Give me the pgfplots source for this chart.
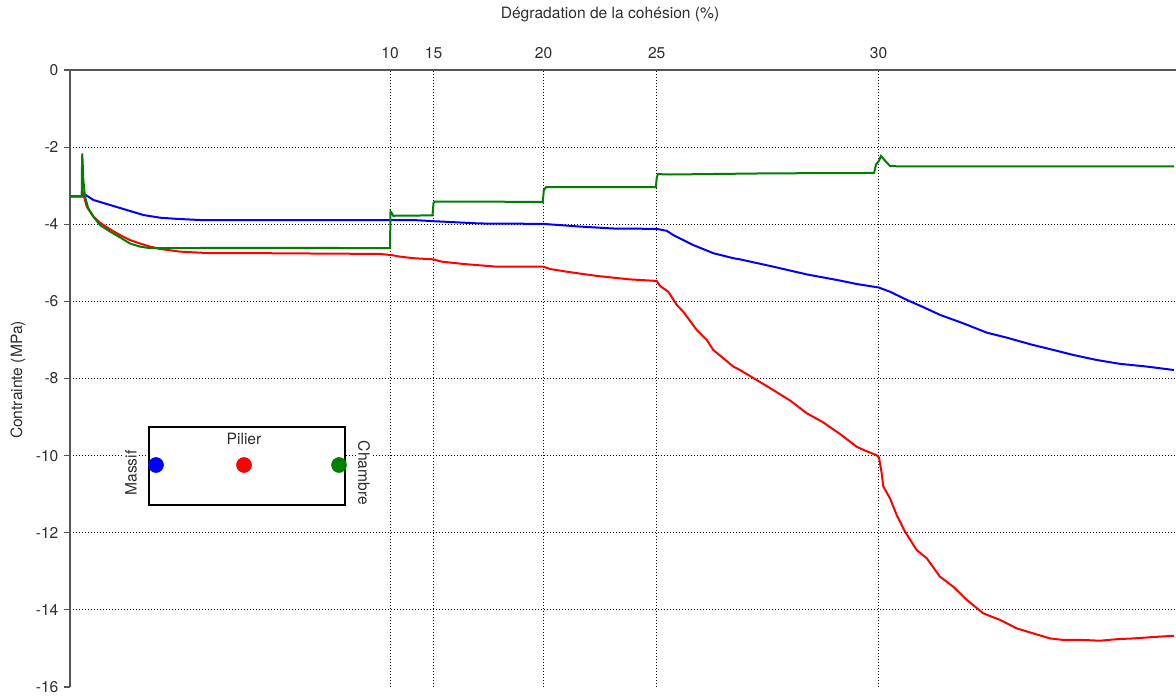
\documentclass[border=0pt]{standalone}
\usepackage{fontspec}
\setmainfont{TeX Gyre Heros}
\usepackage{pgfplots}
\pgfplotsset{compat=1.18}
\definecolor{txt}{HTML}{2E2E2E}
\definecolor{axl}{HTML}{555555}
\definecolor{cblue}{RGB}{0,0,255}
\definecolor{cred}{RGB}{255,0,0}
\definecolor{cgreen}{RGB}{0,128,0}
\begin{document}
\fontsize{7.8}{9}\selectfont
\begin{tikzpicture}
\path[use as bounding box] (0,0) rectangle (588pt,348.5pt);
\begin{axis}[
  at={(35pt,5pt)}, anchor=south west,
  scale only axis, width=553pt, height=308.5pt,
  xmin=0, xmax=1106, ymin=-16, ymax=0,
  axis x line*=top, axis y line*=left,
  axis line style={axl, line width=0.8pt, -},
  xtick={320,363.5,473.5,586.7,808.5},
  xticklabels={10,15,20,25,30},
  x tick style={draw=none},
  ytick={-14,-12,-10,-8,-6,-4,-2},
  extra y ticks={-16,0},
  extra y tick style={grid=none},
  y tick style={axl, line width=0.6pt},
  tick align=outside, major tick length=3pt,
  grid=major,
  major grid style={black, line width=0.45pt, dash pattern=on 0.6pt off 0.9pt},
  tick label style={font=\fontsize{7.8}{9}\selectfont, text=txt},
  /pgf/number format/assume math mode=true,
  clip=false,
]
\addplot[cblue, line width=1pt] coordinates {
(0,-3.28) (12,-3.28) (13.3,-3.20) (23.3,-3.37) (40,-3.50) (56.7,-3.63) (73.3,-3.76)
(90,-3.83) (106.7,-3.86) (130,-3.89) (200,-3.89) (260,-3.89) (320,-3.89) (343,-3.89)
(363,-3.92) (410,-3.98) (473,-3.99) (510,-4.06) (543,-4.11) (586.7,-4.12) (596.7,-4.17)
(603.3,-4.28) (623.3,-4.54) (643.3,-4.75) (663.3,-4.88) (670,-4.91) (703.3,-5.10)
(736.7,-5.30) (770,-5.46) (786.7,-5.55) (808.7,-5.64) (820,-5.75) (836.7,-5.96)
(853.3,-6.15) (870,-6.35) (893.3,-6.57) (916.7,-6.81) (936.7,-6.94) (960,-7.11)
(983.3,-7.26) (1003.3,-7.39) (1026.7,-7.52) (1050,-7.62) (1076.7,-7.69) (1104,-7.78)
};
\addplot[cred, line width=1pt] coordinates {
(0,-3.28) (12,-3.28) (12.7,-3.16) (16.7,-3.54) (23.3,-3.80) (30,-3.96) (40,-4.13)
(50,-4.28) (60,-4.41) (70,-4.50) (80,-4.58) (90,-4.64) (110,-4.71) (140,-4.75)
(190,-4.75) (250,-4.76) (310,-4.77) (321.7,-4.80) (330,-4.84) (343.3,-4.88)
(363.3,-4.91) (371.7,-4.97) (393.3,-5.03) (426.7,-5.10) (473.3,-5.10) (480,-5.16)
(496.7,-5.23) (526.7,-5.34) (560,-5.43) (586.7,-5.47) (590,-5.60) (598.3,-5.75)
(606.7,-6.09) (613.3,-6.27) (626.7,-6.74) (636.7,-7.00) (643.3,-7.26) (663.3,-7.69)
(670,-7.78) (686.7,-8.04) (703.3,-8.30) (720,-8.57) (736.7,-8.90) (753.3,-9.14)
(770,-9.44) (786.7,-9.77) (793.3,-9.85) (806.7,-9.99) (809,-10.05) (811.7,-10.46)
(813.3,-10.80) (820,-11.11) (826.7,-11.54) (835,-11.97) (846.7,-12.45) (856.7,-12.66)
(870,-13.14) (883.3,-13.40) (896.7,-13.74) (913.3,-14.09) (930,-14.26) (946.7,-14.48)
(963.3,-14.61) (980,-14.74) (993.3,-14.78) (1013.3,-14.78) (1030,-14.80)
(1046.7,-14.76) (1063.3,-14.74) (1080,-14.71) (1104,-14.67)
};
\addplot[cgreen, line width=1pt] coordinates {
(0,-3.28) (11.7,-3.28) (12,-2.5) (12.3,-2.16) (13.3,-2.85) (15,-3.28) (18.3,-3.59)
(23.3,-3.80) (30,-4.02) (40,-4.19) (50,-4.34) (60,-4.50) (70,-4.58) (80,-4.62)
(200,-4.61) (320,-4.62) (320.5,-3.67) (322,-3.72) (323.3,-3.78) (362.5,-3.77)
(363.5,-3.45) (365,-3.41) (472.8,-3.42) (473.8,-3.12) (476,-3.04) (585.8,-3.04)
(586.8,-2.78) (588,-2.70) (600,-2.71) (700,-2.68) (804,-2.67) (806,-2.45)
(809,-2.35) (811,-2.23) (815,-2.35) (820,-2.49) (830,-2.50) (1104,-2.50)
};
\draw[black, line width=0.7pt, fill=white] (axis cs:79,-9.258) rectangle (axis cs:275,-11.281);
\node[text=txt, font=\fontsize{7.8}{9}\selectfont] at (axis cs:174,-9.56) {Pilier};
\node[text=txt, font=\fontsize{7.8}{9}\selectfont, rotate=90, fill=white, inner sep=1pt] at (axis cs:61,-10.45) {Massif};
\node[text=txt, font=\fontsize{7.8}{9}\selectfont, rotate=-90, fill=white, inner sep=1pt] at (axis cs:294,-10.45) {Chambre};
\addplot[only marks, mark=*, mark size=3.7pt, cblue] coordinates {(86,-10.243)};
\addplot[only marks, mark=*, mark size=3.7pt, cred] coordinates {(174,-10.243)};
\addplot[only marks, mark=*, mark size=3.7pt, cgreen] coordinates {(269,-10.243)};
\end{axis}
\node[text=txt] at (305pt,341pt) {Dégradation de la cohésion (\%)};
\node[text=txt, rotate=90] at (9pt,158.5pt) {Contrainte (MPa)};
\end{tikzpicture}
\end{document}
